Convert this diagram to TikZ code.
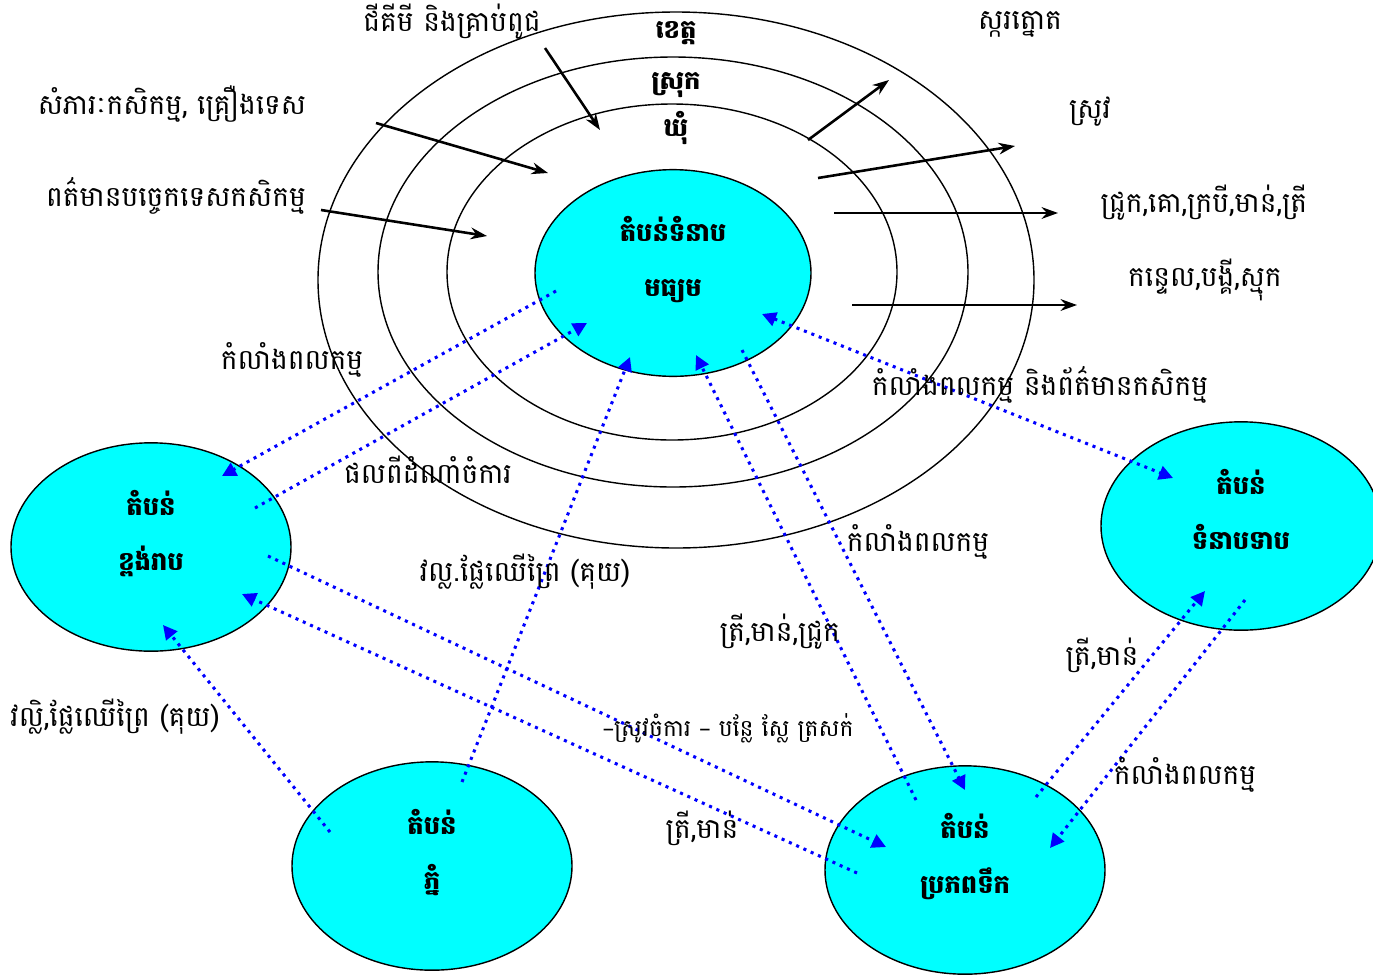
\documentclass[tikz,border=0pt]{standalone}
\usepackage{fontspec}
\newfontfamily\khmer[Script=Khmer]{Battambang}
\newfontfamily\dashfont{DejaVu Sans}
\usetikzlibrary{arrows.meta,shapes.geometric}
\definecolor{zonecyan}{RGB}{0,255,255}

\begin{document}
\begin{tikzpicture}[x=0.03cm,y=-0.03cm,
  font=\khmer\fontsize{24}{28}\selectfont,
  ring/.style={line width=1.2pt},
  zone/.style={ellipse,draw,fill=zonecyan,line width=1.2pt,inner sep=0pt,
    minimum width=8.4cm,minimum height=6.25cm,align=center,text depth=1cm,
    font=\khmer\bfseries\fontsize{22}{47}\selectfont},
  tier/.style={font=\khmer\bfseries\fontsize{22}{26}\selectfont},
  flow/.style={line width=2.2pt,>={Stealth[length=14pt,width=10pt]}},
  link/.style={blue,line width=2.6pt,dash pattern=on 2.6pt off 4.2pt,
    >={Triangle[length=12pt,width=12pt]}}]
\clip (0,0) rectangle (1373,975);

% rings: province, district, commune
\draw[ring] (676,280) ellipse [x radius=358,y radius=268];
\draw[ring] (673,272) ellipse [x radius=295,y radius=215];
\draw[ring] (672,272) ellipse [x radius=225,y radius=168];
\node[tier] (prov) at (676,33) {ខេត្ត};
\node[tier] (dist) at (676,85) {ស្រុក};
\node[tier] (comm) at (676,128) {ឃុំ};

% zones
\node[zone,minimum width=8.28cm,minimum height=6.2cm] (mid) at (673,273) {តំបន់ទំនាប\\មធ្យម};
\node[zone] (plat) at (151,547) {តំបន់\\ខ្ពង់រាប};
\node[zone] (low) at (1241,526) {តំបន់\\ទំនាបទាប};
\node[zone] (mtn) at (432,866) {តំបន់\\ភ្នំ};
\node[zone] (src) at (965,870) {តំបន់\\ប្រភពទឹក};

% inputs and outputs
\node (seedTxt) at (452,22) {ជីគីមី និងគ្រាប់ពូជ};
\node (toolTxt) at (172,104) {សំភារៈកសិកម្ម, គ្រឿងទេស};
\node (techTxt) at (176,196) {ពត៌មានបច្ចេកទេសកសិកម្ម};
\node (sugarTxt) at (1020,24) {ស្ករត្នោត};
\node (riceTxt) at (1090,112) {ស្រូវ};
\node (animTxt) at (1204,203) {ជ្រូក,គោ,ក្របី,មាន់,ត្រី};
\node (matTxt) at (1205,280) {កន្ទេល,បង្គី,ស្មុក};

\coordinate (f1a) at (545,48);  \coordinate (f1b) at (600,130);
\coordinate (f2a) at (376,123); \coordinate (f2b) at (548,173);
\coordinate (f3a) at (321,210); \coordinate (f3b) at (487,236);
\coordinate (f4a) at (808,140); \coordinate (f4b) at (889,80);
\coordinate (f5a) at (818,178); \coordinate (f5b) at (1015,146);
\coordinate (f6a) at (834,213); \coordinate (f6b) at (1058,213);
\coordinate (f7a) at (852,305); \coordinate (f7b) at (1077,305);
\draw[flow,->] (f1a) -- (f1b);
\draw[flow,->] (f2a) -- (f2b);
\draw[flow,->] (f3a) -- (f3b);
\draw[flow,->] (f4a) -- (f4b);
\draw[flow,->] (f5a) -- (f5b);
\draw[flow,->] (f6a) -- (f6b);
\draw[flow,->] (f7a) -- (f7b);

% exchanges between zones
\coordinate (midA) at (556,291);   \coordinate (platA) at (222,476);
\coordinate (platB) at (255,508);  \coordinate (midB) at (587,323);
\coordinate (midC) at (762,314);   \coordinate (lowA) at (1173,478);
\coordinate (mtnA) at (462,782);   \coordinate (midD) at (630,357);
\coordinate (srcA) at (916,800);   \coordinate (midE) at (696,355);
\coordinate (midF) at (742,350);   \coordinate (srcB) at (965,790);
\coordinate (platC) at (268,556);  \coordinate (srcC) at (886,847);
\coordinate (srcD) at (857,873);   \coordinate (platD) at (242,594);
\coordinate (mtnB) at (330,832);   \coordinate (platE) at (163,625);
\coordinate (srcE) at (1036,797);  \coordinate (lowB) at (1205,591);
\coordinate (lowC) at (1245,600);  \coordinate (srcF) at (1050,848);
\draw[link,->] (midA) -- (platA);
\draw[link,->] (platB) -- (midB);
\draw[link,<->] (midC) -- (lowA);
\draw[link,->] (mtnA) -- (midD);
\draw[link,->] (srcA) -- (midE);
\draw[link,->] (midF) -- (srcB);
\draw[link,->] (platC) -- (srcC);
\draw[link,->] (srcD) -- (platD);
\draw[link,->] (mtnB) -- (platE);
\draw[link,->] (srcE) -- (lowB);
\draw[link,->] (lowC) -- (srcF);

\node (labPlat) at (292,360) {កំលាំងពលកម្ម};
\node (cropPlat) at (428,470) {ផលពីដំណាំចំការ};
\node (labLow) at (1040,385) {កំលាំងពលកម្ម និងព័ត៌មានកសិកម្ម};
\node (forMtn) at (525,572) {វល្ល.ផ្លែឈើព្រៃ (គុយ)};
\node (labSrc) at (918,542) {កំលាំងពលកម្ម};
\node (fishSrc) at (780,632) {ត្រី,មាន់,ជ្រូក};
\node (forPlat) at (115,717) {វល្លិ,ផ្លែឈើព្រៃ (គុយ)};
\node (fishLow) at (1102,655) {ត្រី,មាន់};
\node[font=\khmer\fontsize{20}{24}\selectfont] (cropSrc) at (728,728)
  {{\dashfont –}ស្រូវចំការ {\dashfont –} បន្លែ ស្លែ ត្រសក់};
\node (labLow2) at (1185,775) {កំលាំងពលកម្ម};
\node (fishPlat) at (702,828) {ត្រី,មាន់};
\end{tikzpicture}
\end{document}
